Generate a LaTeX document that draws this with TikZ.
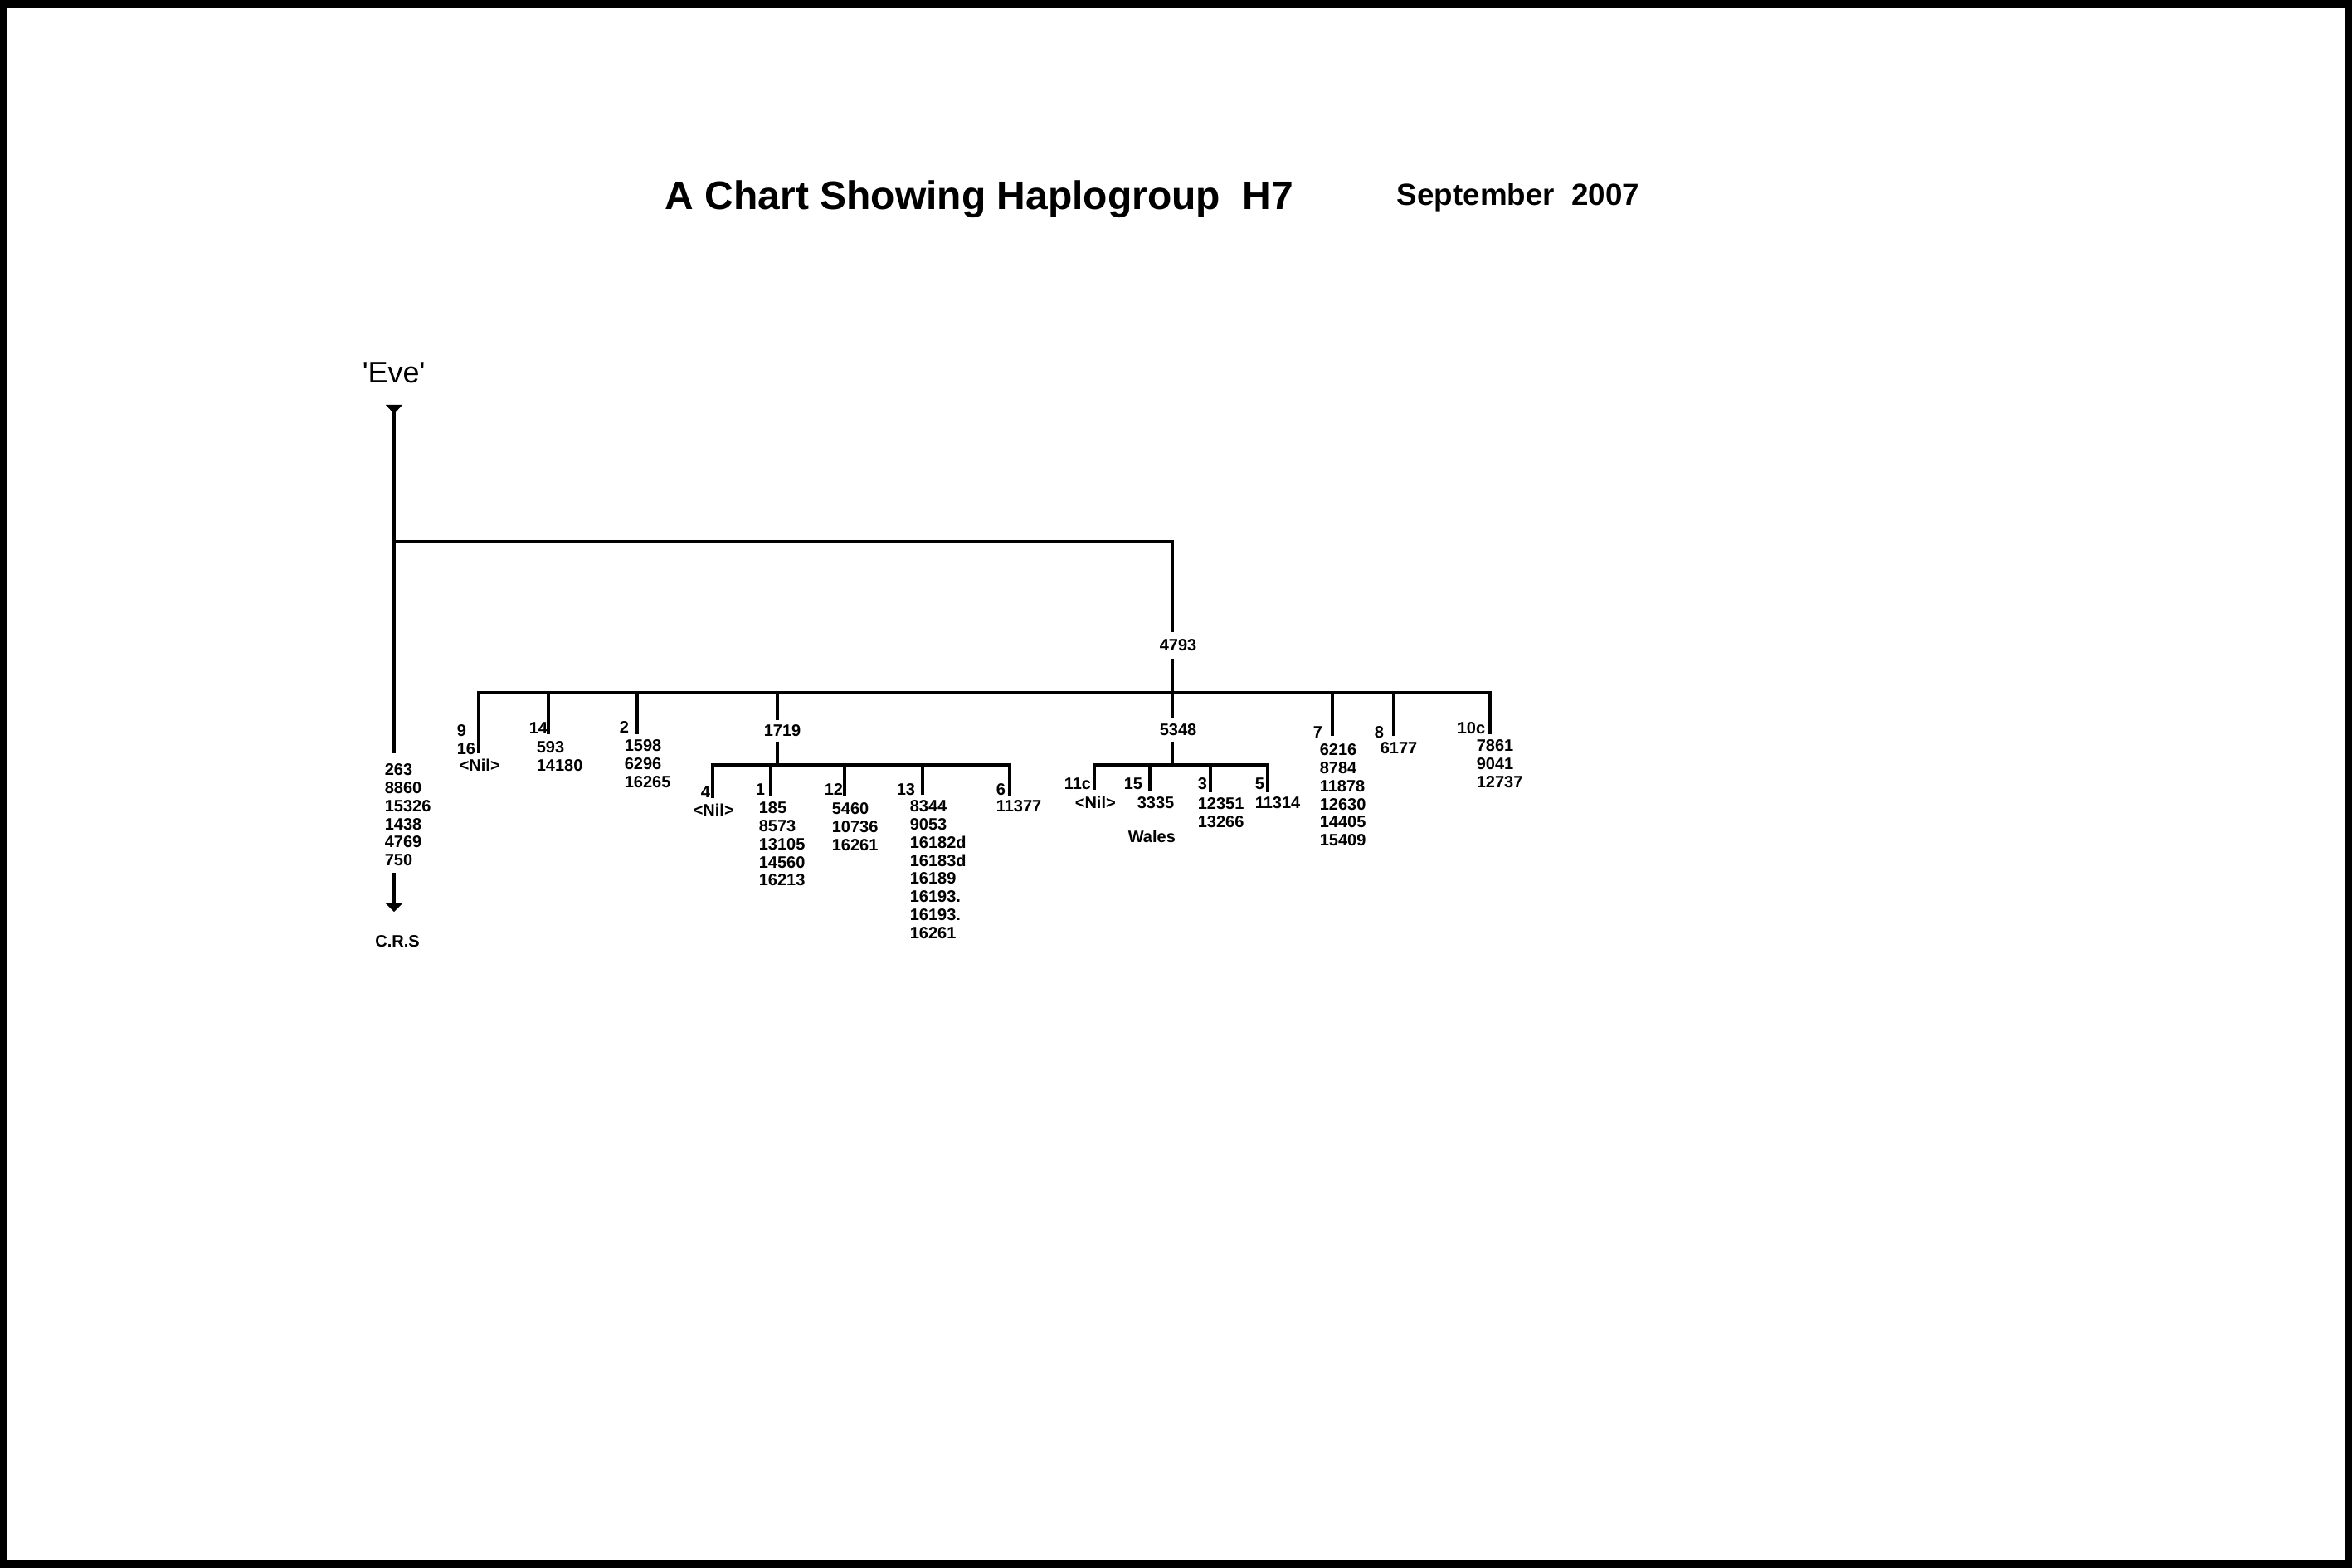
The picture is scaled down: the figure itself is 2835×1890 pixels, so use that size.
\documentclass[tikz,border=0pt]{standalone}
\usepackage{fontspec}
\setmainfont{Liberation Sans}
\usetikzlibrary{arrows.meta}
\begin{document}
\begin{tikzpicture}[x=0.25pt,y=-0.25pt,
  lbl/.style={inner sep=0pt, anchor=west, font=\bfseries\fontsize{5}{5.45}\selectfont},
  lst/.style={lbl, anchor=north west, align=left},
  mid/.style={lbl, anchor=center},
  link/.style={line width=0.85pt},
  tip/.style={-{Triangle[width=5pt,length=2.6pt]}}]
% frame
\fill[black] (0,0) rectangle (2835,1890);
\fill[white] (9,10) rectangle (2826,1880);
\useasboundingbox (0,0) rectangle (2835,1890);
% titles
\node[anchor=base west, inner sep=0pt, font=\bfseries\fontsize{12}{14}\selectfont] (title) at (801,253) {A Chart Showing Haplogroup\ \ H7};
\node[anchor=base west, inner sep=0pt, font=\bfseries\fontsize{9.2}{11}\selectfont] (date) at (1683,248) {September\ \ 2007};
\node[anchor=base west, inner sep=0pt, font=\fontsize{9}{10}\selectfont] (eve) at (436,462) {\textquotesingle Eve\textquotesingle};
% coordinates
\coordinate (evetop) at (475,488);
\coordinate (j0) at (475,653);
\coordinate (crsend) at (475,908);
\coordinate (j1) at (1413,653);
\coordinate (bL) at (577,835);
\coordinate (bR) at (1796,835);
\coordinate (e9) at (577,908);
\coordinate (e10c) at (1796,885);
\coordinate (t14) at (661,835); \coordinate (e14) at (661,885);
\coordinate (t2) at (768,835); \coordinate (e2) at (768,885);
\coordinate (t1719) at (937,835);
\coordinate (t7) at (1606,835); \coordinate (e7) at (1606,887);
\coordinate (t8) at (1680,835); \coordinate (e8) at (1680,887);
\coordinate (sAL) at (859,922); \coordinate (sAR) at (1217,922);
\coordinate (sAm) at (937,922);
\coordinate (e4) at (859,962); \coordinate (e6) at (1217,960);
\coordinate (t1) at (929,922); \coordinate (e1) at (929,960);
\coordinate (t12) at (1018,922); \coordinate (e12) at (1018,960);
\coordinate (t13) at (1112,922); \coordinate (e13) at (1112,958);
\coordinate (sBL) at (1319,922); \coordinate (sBR) at (1528,922);
\coordinate (sBm) at (1413,922);
\coordinate (e11c) at (1319,952); \coordinate (e5) at (1528,955);
\coordinate (t15) at (1386,922); \coordinate (e15) at (1386,954);
\coordinate (t3) at (1459,922); \coordinate (e3) at (1459,955);
% gap labels
\node[mid, inner ysep=1.95pt] (n4793) at (1420,778) {4793};
\node[mid, inner ysep=1.45pt] (n5348) at (1420,880) {5348};
\node[mid, inner ysep=1.2pt] (n1719) at (943,881) {1719};
% Eve line
\fill (evetop) ++(-10,0) -- ++(20,0) -- ++(-10,11) -- cycle;
\draw[link] (evetop) -- (crsend);
\draw[link] (j0) -- (j1) -- (j1 |- n4793.north);
\draw[link] (j1 |- n4793.south) -- (j1 |- n5348.north);
\draw[link] (j1 |- n5348.south) -- (sBm);
% main bar
\draw[link] (e9) -- (bL) -- (bR) -- (e10c);
\draw[link] (t14) -- (e14);
\draw[link] (t2) -- (e2);
\draw[link] (t7) -- (e7);
\draw[link] (t8) -- (e8);
\draw[link] (t1719) -- (t1719 |- n1719.north);
\draw[link] (t1719 |- n1719.south) -- (sAm);
% sub bar A
\draw[link] (e4) -- (sAL) -- (sAR) -- (e6);
\draw[link] (t1) -- (e1);
\draw[link] (t12) -- (e12);
\draw[link] (t13) -- (e13);
% sub bar B
\draw[link] (e11c) -- (sBL) -- (sBR) -- (e5);
\draw[link] (t15) -- (e15);
\draw[link] (t3) -- (e3);
% Eve / CRS lists
\node[lst] (crslist) at (463,920) {263\\8860\\15326\\1438\\4769\\750};
\node[mid] (crs) at (479,1135) {C.R.S};
\draw[link,tip] ([yshift=-1.75pt]crslist.south -| crsend) -- ([yshift=7pt]crs.north -| crsend);
% main-bar leaves
\node[lst] (l9) at (550,873) {9\\16};
\node[lbl] (l9b) at (553,922) {<Nil>};
\node[lbl] (l14) at (637,878) {14};
\node[lst] (l14b) at (646,893) {593\\14180};
\node[lbl] (l2) at (746,877) {2};
\node[lst] (l2b) at (752,891) {1598\\6296\\16265};
\node[lbl] (l7) at (1582,883) {7};
\node[lst] (l7b) at (1590,896) {6216\\8784\\11878\\12630\\14405\\15409};
\node[lbl] (l8) at (1656,883) {8};
\node[lbl] (l8b) at (1663,902) {6177};
\node[lbl] (l10c) at (1756,878) {10c};
\node[lst] (l10cb) at (1779,891) {7861\\9041\\12737};
% 1719 leaves
\node[lbl] (l4) at (844,955) {4};
\node[lbl] (l4b) at (835,976) {<Nil>};
\node[lbl] (l1) at (910,952) {1};
\node[lst] (l1b) at (914,966) {185\\8573\\13105\\14560\\16213};
\node[lbl] (l12) at (993,952) {12};
\node[lst] (l12b) at (1002,967) {5460\\10736\\16261};
\node[lbl] (l13) at (1080,952) {13};
\node[lst] (l13b) at (1096,964) {8344\\9053\\16182d\\16183d\\16189\\16193.\\16193.\\16261};
\node[lbl] (l6) at (1200,952) {6};
\node[lbl] (l6b) at (1200,972) {11377};
% 5348 leaves
\node[lbl] (l11c) at (1282,945) {11c};
\node[lbl] (l11cb) at (1295,967) {<Nil>};
\node[lbl] (l15) at (1354,945) {15};
\node[lbl] (l15b) at (1370,968) {3335};
\node[lbl] (wales) at (1359,1008) {Wales};
\node[lbl] (l3) at (1443,945) {3};
\node[lst] (l3b) at (1443,961) {12351\\13266};
\node[lbl] (l5) at (1512,945) {5};
\node[lbl] (l5b) at (1512,968) {11314};
\end{tikzpicture}
\end{document}
